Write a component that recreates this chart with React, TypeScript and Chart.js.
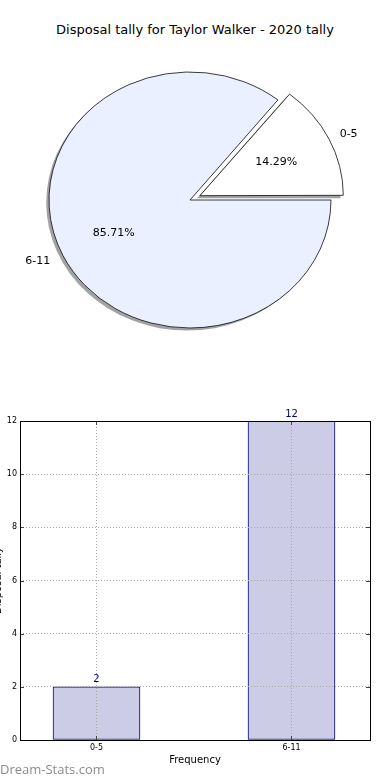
import React, { useEffect, useRef } from 'react';
import { Chart, registerables } from 'chart.js';

Chart.register(...registerables);

const TITLE = 'Disposal tally for Taylor Walker - 2020 tally';
const categories = ['0-5', '6-11'];
const tallies = [2, 12];
const pieColors = ['#FFFFFF', '#EAF0FF'];
const explodeOffsets = [44, 0];
const yTickValues = [0, 2, 4, 6, 8, 10, 12];
const X_TITLE = 'Frequency';
const Y_TITLE = 'Disposal tally';
const WATERMARK = 'Dream-Stats.com';

const FONT = "'DejaVu Sans', sans-serif";
const SY = 128 / 141;
const TOTAL = tallies.reduce((a, b) => a + b, 0);
// Chart.js rotation 0 = top; matplotlib starts at east going counter-clockwise
const ROTATION = 90 - (360 * tallies[0]) / TOTAL;

const piePlugin = {
  id: 'piePlugin',
  beforeDatasetsDraw(chart: any) {
    const arcs = chart.getDatasetMeta(0).data;
    const ctx = chart.ctx;
    const cx = arcs[0].x;
    const cy = arcs[0].y;
    ctx.save();
    ctx.translate(cx, cy);
    ctx.scale(1, SY);
    ctx.translate(-cx, -cy);
    arcs.forEach((a: any) => {
      const off = (a.options.offset || 0) / 4;
      const h = (a.startAngle + a.endAngle) / 2;
      const circ = a.endAngle - a.startAngle;
      const fix = 1 - Math.sin(Math.min(Math.PI, circ));
      const r = a.outerRadius + off * fix;
      const x = a.x + Math.cos(h) * off - 2.8;
      const y = a.y + Math.sin(h) * off + 2.6 / SY;
      ctx.beginPath();
      ctx.moveTo(x, y);
      ctx.arc(x, y, r, a.startAngle, a.endAngle);
      ctx.closePath();
      ctx.fillStyle = 'rgba(70,72,76,0.5)';
      ctx.fill();
    });
  },
  afterDatasetsDraw(chart: any) {
    const ctx = chart.ctx;
    ctx.restore();
    const arcs = chart.getDatasetMeta(0).data;
    ctx.save();
    ctx.fillStyle = '#000';
    ctx.font = `11px ${FONT}`;
    ctx.textBaseline = 'middle';
    arcs.forEach((a: any, i: number) => {
      const off = (a.options.offset || 0) / 4;
      const h = (a.startAngle + a.endAngle) / 2;
      const c = Math.cos(h);
      const s = Math.sin(h);
      const R = a.outerRadius;
      const lx = a.x + c * (off + 1.1 * R);
      const ly = a.y + SY * s * (off + 1.1 * R);
      ctx.textAlign = c >= 0 ? 'left' : 'right';
      ctx.fillText(categories[i], lx, ly);
      const px = a.x + c * (off + 0.6 * R);
      const py = a.y + SY * s * (off + 0.6 * R);
      ctx.textAlign = 'center';
      ctx.fillText(((tallies[i] / TOTAL) * 100).toFixed(2) + '%', px, py);
    });
    ctx.restore();
  },
};

const barPlugin = {
  id: 'barPlugin',
  afterDatasetsDraw(chart: any) {
    const ctx = chart.ctx;
    const bars = chart.getDatasetMeta(0).data;
    ctx.save();
    ctx.fillStyle = '#000080';
    ctx.font = `10px ${FONT}`;
    ctx.textAlign = 'center';
    ctx.textBaseline = 'alphabetic';
    bars.forEach((b: any, i: number) => {
      ctx.fillText(String(tallies[i]), b.x, b.y - 4.5);
    });
    ctx.restore();
  },
  afterDraw(chart: any) {
    const ctx = chart.ctx;
    const { left, right, top, bottom } = chart.chartArea;
    ctx.save();
    ctx.strokeStyle = '#444';
    ctx.lineWidth = 1;
    const ys = chart.scales.y;
    const xs = chart.scales.x;
    ys.ticks.forEach((t: any) => {
      const y = Math.round(ys.getPixelForValue(t.value)) + 0.5;
      ctx.beginPath();
      ctx.moveTo(left, y);
      ctx.lineTo(left + 4, y);
      ctx.moveTo(right, y);
      ctx.lineTo(right - 4, y);
      ctx.stroke();
    });
    xs.ticks.forEach((t: any) => {
      const x = Math.round(xs.getPixelForValue(t.value)) + 0.5;
      ctx.beginPath();
      ctx.moveTo(x, top);
      ctx.lineTo(x, top + 4);
      ctx.moveTo(x, bottom);
      ctx.lineTo(x, bottom - 4);
      ctx.stroke();
    });
    ctx.strokeStyle = '#000';
    ctx.lineWidth = 1;
    ctx.strokeRect(Math.round(left) + 0.5, Math.round(top) + 0.5, Math.round(right - left), Math.round(bottom - top));
    ctx.fillStyle = '#000';
    ctx.font = `10px ${FONT}`;
    ctx.translate(1, (top + bottom) / 2);
    ctx.rotate(-Math.PI / 2);
    ctx.textAlign = 'center';
    ctx.textBaseline = 'alphabetic';
    ctx.fillText(Y_TITLE, 0, 0);
    ctx.restore();
  },
};

export default function App() {
  const pieRef = useRef<HTMLCanvasElement>(null);
  const barRef = useRef<HTMLCanvasElement>(null);

  useEffect(() => {
    const pie = new Chart(pieRef.current as HTMLCanvasElement, {
      type: 'pie',
      data: {
        labels: categories,
        datasets: [
          {
            data: tallies,
            backgroundColor: pieColors,
            borderColor: '#000',
            borderWidth: 0.8,
            offset: explodeOffsets,
            radius: 141,
            rotation: ROTATION,
            clip: false,
          } as any,
        ],
      },
      options: {
        animation: false,
        responsive: false,
        events: [],
        rotation: ROTATION,
        radius: 141,
        layout: { padding: { left: 0, right: 10, top: 50, bottom: 40 } },
        plugins: {
          legend: { display: false },
          tooltip: { enabled: false },
          title: { display: false },
        },
      } as any,
      plugins: [piePlugin],
    });

    const bar = new Chart(barRef.current as HTMLCanvasElement, {
      type: 'bar',
      data: {
        datasets: [
          {
            data: categories.map((_, i) => ({ x: i, y: tallies[i] })),
            backgroundColor: '#CCCCE6',
            borderColor: '#000080',
            borderWidth: 1,
            borderSkipped: false,
            barThickness: 87,
          } as any,
        ],
      },
      options: {
        animation: false,
        responsive: false,
        events: [],
        layout: { padding: { top: 31, right: 20, left: 0, bottom: 0 } },
        plugins: { legend: { display: false }, tooltip: { enabled: false } },
        scales: {
          x: {
            type: 'linear',
            min: -0.3923,
            max: 1.4026,
            offset: false,
            afterBuildTicks: (s: any) => {
              s.ticks = categories.map((_, i) => ({ value: i }));
            },
            afterFit: (s: any) => {
              s.height = 40;
            },
            ticks: {
              callback: (v: any) => categories[v] ?? '',
              font: { family: FONT, size: 8 },
              color: '#000',
              padding: 3,
              maxRotation: 0,
              autoSkip: false,
            },
            grid: { color: '#a8a8a8', lineWidth: 1, drawTicks: false, offset: false, z: 1 },
            border: { display: false, dash: [1, 2] },
            title: {
              display: true,
              text: X_TITLE,
              color: '#000',
              font: { family: FONT, size: 10 },
              padding: { top: 0, bottom: 14 },
            },
          },
          y: {
            type: 'linear',
            min: 0,
            max: 12,
            afterBuildTicks: (s: any) => {
              s.ticks = yTickValues.map((v) => ({ value: v }));
            },
            afterFit: (s: any) => {
              s.width = 20;
            },
            ticks: {
              font: { family: FONT, size: 8 },
              color: '#000',
              padding: 3,
            },
            grid: { color: '#a8a8a8', lineWidth: 1, drawTicks: false, z: 1 },
            border: { display: false, dash: [1, 2] },
          },
        },
      } as any,
      plugins: [barPlugin],
    });

    return () => {
      pie.destroy();
      bar.destroy();
    };
  }, []);

  return (
    <div style={{ position: 'absolute', left: 0, top: 0, width: 390, height: 780, background: '#fff' }}>
      <div
        style={{
          position: 'absolute',
          left: 0,
          top: 22,
          width: 390,
          textAlign: 'center',
          font: `13px ${FONT}`,
          lineHeight: '16px',
          color: '#000',
          whiteSpace: 'nowrap',
        }}
      >
        {TITLE}
      </div>
      <canvas ref={pieRef} width={390} height={390} style={{ display: 'block', position: 'absolute', left: 0, top: 0 }} />
      <canvas ref={barRef} width={390} height={390} style={{ display: 'block', position: 'absolute', left: 0, top: 390 }} />
      <div
        style={{
          position: 'absolute',
          left: 0,
          top: 762,
          font: `13px 'Open Sans', sans-serif`,
          lineHeight: '14px',
          color: '#8c8c8c',
          whiteSpace: 'nowrap',
        }}
      >
        {WATERMARK}
      </div>
    </div>
  );
}
